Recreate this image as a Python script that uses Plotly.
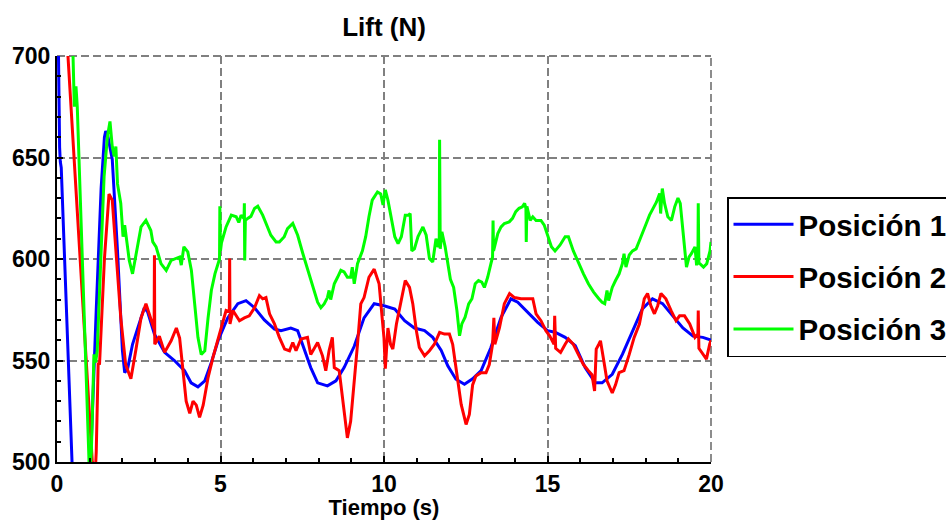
import plotly.graph_objects as go

# Time (s) and lift (N) samples for each position
t1 = [0, 0.04, 0.08, 0.1, 0.13, 0.46, 0.72, 0.9, 1.05, 1.2, 1.35, 1.45, 1.49, 1.55, 1.69, 1.85, 2.0, 2.07,
      2.16, 2.31, 2.46, 2.67, 2.77, 2.98, 3.29, 3.59, 3.9, 4.1, 4.31, 4.52, 4.72, 4.93, 5.22, 5.53, 5.78,
      6.04, 6.34, 6.65, 6.85, 7.15, 7.36, 7.56, 7.76, 7.97, 8.27, 8.53, 8.78, 9.09, 9.39, 9.7, 10.0,
      10.33, 10.63, 10.93, 11.24, 11.49, 11.75, 11.95, 12.2, 12.46, 12.71, 12.97, 13.27, 13.58, 13.88,
      14.09, 14.39, 14.7, 15.0, 15.23, 15.54, 15.85, 16.15, 16.46, 16.67, 16.98, 17.29, 17.6, 17.9,
      18.21, 18.52, 18.83, 19.14, 19.45, 19.75, 20.0]
p1 = [760, 700, 655, 648, 645, 500, 430, 460, 510, 575, 635, 660, 663, 661, 649, 604, 555, 544,
      546, 558, 566, 576, 574, 563, 554, 550, 545, 539, 537, 540, 549, 560, 571, 578, 579.5,
      576, 570, 565.5, 564.7, 566, 564.7, 556, 546.5, 539, 537.5, 540, 546.5, 557, 571, 578, 577,
      575.4, 569.6, 566, 564.7, 561.4, 555, 547.4, 540.8, 538.3, 541, 545, 556.4, 571.3, 580.4,
      578.7, 573.8, 568.8, 564.7, 563.9, 561.4, 557.3, 546.5, 539, 539, 543.2, 553, 564.7, 575.4,
      580.4, 578, 572, 566, 562, 561.4, 560]

t2 = [0, 1.08, 1.15, 1.2, 1.26, 1.3, 1.45, 1.59, 1.69, 1.8, 1.95, 2.1, 2.26, 2.41, 2.57, 2.72, 2.87,
      2.97, 2.98, 2.99, 3.13, 3.29, 3.49, 3.65, 3.75, 3.85, 3.95, 4.06, 4.16, 4.26, 4.36, 4.47, 4.62,
      4.77, 4.93, 5.07, 5.17, 5.27, 5.28, 5.29, 5.38, 5.58, 5.73, 5.88, 6.04, 6.19, 6.29, 6.39, 6.5,
      6.65, 6.8, 6.96, 7.11, 7.21, 7.31, 7.46, 7.66, 7.76, 7.97, 8.12, 8.22, 8.32, 8.42, 8.48, 8.63,
      8.78, 8.88, 8.98, 9.09, 9.19, 9.29, 9.39, 9.54, 9.7, 9.85, 9.95, 10.0, 10.04, 10.12, 10.2,
      10.27, 10.38, 10.53, 10.65, 10.78, 10.88, 10.99, 11.08, 11.24, 11.39, 11.54, 11.7, 11.85,
      12.0, 12.1, 12.2, 12.36, 12.51, 12.61, 12.71, 12.81, 12.97, 13.12, 13.22, 13.32, 13.36,
      13.39, 13.53, 13.68, 13.84, 13.99, 14.19, 14.39, 14.55, 14.65, 14.8, 14.95, 15.07, 15.2,
      15.22, 15.25, 15.4, 15.54, 15.64, 15.79, 15.95, 16.1, 16.25, 16.36, 16.44, 16.49, 16.57,
      16.62, 16.72, 16.82, 16.98, 17.08, 17.19, 17.34, 17.5, 17.65, 17.81, 17.96, 18.06, 18.16,
      18.27, 18.37, 18.47, 18.62, 18.78, 18.93, 19.04, 19.19, 19.35, 19.51, 19.6, 19.61, 19.63,
      19.76, 19.86, 19.96, 20.0]
p2 = [790, 500, 488, 505, 549, 548, 600, 632, 629, 604, 571, 548, 541, 555, 571, 578, 571,
      565.5, 601.8, 558, 562, 554, 559.7, 566, 561, 545, 530, 524, 530, 528, 522, 528, 541.6,
      551.5, 561, 568, 574.6, 574, 600.2, 568, 574.6, 569.6, 571, 572, 576, 582, 580.4, 581, 573,
      568, 561.4, 555.6, 554.8, 558.9, 554.8, 560.6, 561.4, 553, 558.9, 552.3, 545, 554.8, 561.4, 546.5, 545,
      523.4, 511.9, 520, 538, 558, 577.9, 581, 591, 595, 587.8, 571, 561, 546, 566, 558,
      555.6, 568, 579.5, 589.4, 586, 578, 564.7, 556.4, 552.3, 554.8, 558, 563.9, 563,
      563, 558, 546.5, 528.4, 518.5, 523.4, 538, 542.4, 544, 544, 548, 558, 571,
      558, 566, 578, 583, 581, 580.4, 580.4, 580.4, 573, 569.6, 564.7, 562, 558,
      572, 556, 554, 558, 560.6, 558, 553, 548, 545, 543, 535, 555.6, 558,
      559.7, 550, 540, 534, 538, 544, 545, 553, 561.4, 568, 580.4, 583, 577,
      573, 577, 583, 580.4, 574.6, 569.6, 572, 572, 568, 561.4, 563, 574.6, 556,
      553, 550.7, 558, 560]

t3 = [0, 0.3, 0.49, 0.53, 0.58, 0.62, 0.98, 1.0, 1.05, 1.08, 1.13, 1.18, 1.23, 1.33, 1.44, 1.54, 1.62,
      1.69, 1.75, 1.8, 1.85, 1.95, 2.02, 2.07, 2.12, 2.21, 2.31, 2.41, 2.57, 2.72, 2.87, 2.93, 3.03,
      3.18, 3.34, 3.49, 3.65, 3.75, 3.8, 3.88, 4.0, 4.11, 4.21, 4.31, 4.41, 4.52, 4.62, 4.72, 4.83,
      4.93, 4.97, 4.98, 5.0, 5.03, 5.17, 5.33, 5.48, 5.56, 5.63, 5.72, 5.73, 5.74, 5.76, 5.83, 5.93,
      6.04, 6.14, 6.29, 6.44, 6.54, 6.7, 6.8, 6.95, 7.05, 7.21, 7.36, 7.52, 7.68, 7.83, 7.97, 8.07,
      8.17, 8.27, 8.32, 8.37, 8.48, 8.58, 8.68, 8.78, 8.88, 8.98, 9.03, 9.09, 9.19, 9.34, 9.44, 9.54,
      9.64, 9.8, 9.9, 9.97, 10.04, 10.12, 10.22, 10.33, 10.43, 10.53, 10.65, 10.75, 10.8, 10.85,
      10.93, 11.04, 11.19, 11.29, 11.39, 11.49, 11.59, 11.65, 11.69, 11.7, 11.72, 11.77, 11.87,
      11.98, 12.03, 12.13, 12.23, 12.31, 12.38, 12.48, 12.59, 12.69, 12.79, 12.89, 12.99, 13.07,
      13.17, 13.27, 13.32, 13.335, 13.35, 13.48, 13.58, 13.68, 13.83, 13.93, 14.03, 14.13, 14.23,
      14.3, 14.34, 14.35, 14.37, 14.47, 14.55, 14.65, 14.8, 14.9, 15.02, 15.12, 15.23, 15.38,
      15.54, 15.64, 15.79, 15.95, 16.1, 16.25, 16.41, 16.57, 16.67, 16.75, 16.82, 16.87, 16.98,
      17.08, 17.19, 17.29, 17.34, 17.4, 17.5, 17.6, 17.71, 17.81, 17.92, 18.02, 18.12, 18.23,
      18.33, 18.43, 18.46, 18.51, 18.58, 18.68, 18.79, 18.89, 18.99, 19.06, 19.12, 19.2, 19.25,
      19.33, 19.4, 19.51, 19.56, 19.6, 19.61, 19.63, 19.66, 19.77, 19.87, 19.97, 20.0]
p3 = [780, 735, 700, 675, 685, 675, 500, 493, 505, 522, 553, 549, 554.8, 596, 640.6, 660, 667.8,
      655.4, 650.5, 655.4, 637, 627.4, 611, 616.7, 610, 599.3, 592.7, 601, 615.8, 619, 614, 608.4, 606,
      597.7, 594.4, 599.3, 600.2, 601, 597, 606, 603.5, 594.4, 577.9, 561.4, 553, 554.8, 571, 584.5, 592.7,
      597.7, 600, 626, 604, 608, 615.8, 621.6, 620.8, 618, 621.6, 620, 627.4, 599.3, 619, 620, 621,
      624.9, 626, 621.6, 615.8, 611.7, 608.4, 608.4, 611, 615, 617.5, 611.7, 602.6, 594.4, 586, 578.7, 576,
      577.9, 581, 584.5, 580, 587.8, 591, 594.4, 593.6, 591, 591, 596, 587.8, 597.7, 604, 611, 620.8,
      629, 633, 632, 626.6, 634, 629, 620.8, 611, 607.6, 611, 621.6, 621.6, 622.4, 604,
      605, 611, 615.8, 611.7, 600.2, 598.5, 610, 606, 607, 658.7, 605, 613.4, 606,
      594.4, 590, 586, 574.6, 562.2, 568, 571.3, 577.9, 580.4, 587.8, 589.4, 588.6, 586,
      591, 597.7, 601, 619, 604, 612.5, 615.8, 617.5, 618.3, 620, 623.3, 625, 625.7,
      627.4, 625, 608.4, 626, 619, 620.8, 619, 619, 616.7, 611, 606, 604, 606.8,
      611, 611, 604, 597.7, 592.7, 587.8, 583.7, 580.4, 578.7, 578, 584.5, 579.5, 586,
      589.4, 592.7, 597.7, 602.6, 596, 602, 604, 605, 609, 614, 617.5, 621.6, 625,
      628, 632.3, 622.4, 634.7, 627.4, 620.8, 619, 625.7, 630, 627.4, 617.5, 606, 596,
      601, 602.6, 606, 596.9, 600, 627.4, 598, 597.7, 596, 597.7, 604, 608.4]

series = [
    ("Posición 1", t1, p1, "#0000ff"),
    ("Posición 2", t2, p2, "#ff0000"),
    ("Posición 3", t3, p3, "#00ff00"),
]

x_ticks = [0, 5, 10, 15, 20]
y_ticks = [500, 550, 600, 650, 700]

FONT = "Liberation Sans, Arial, Helvetica, sans-serif"
GRID_COLOR = "#808080"
GRID_DASH = "8px,4px"

fig = go.Figure()
for i, (name, t, p, color) in enumerate(series):
    fig.add_trace(go.Scatter(
        x=t, y=p, mode="lines", name=name, legendgroup=f"g{i}",
        line=dict(color=color, width=3),
    ))

axis_common = dict(
    showgrid=True, gridcolor=GRID_COLOR, gridwidth=1.8, griddash=GRID_DASH,
    showline=True, linecolor="black", linewidth=2,
    ticks="inside", ticklen=6, tickwidth=1.5, tickcolor="black",
    zeroline=False, automargin=False,
    tickfont=dict(family=FONT, size=23, color="black", weight="bold"),
)

fig.update_xaxes(
    range=[0, 20], tickvals=x_ticks,
    minor=dict(dtick=1, ticks="inside", ticklen=4, tickcolor="black", showgrid=False),
    title=dict(text="Tiempo (s)", font=dict(family=FONT, size=22, color="black", weight="bold"), standoff=4),
    **axis_common,
)
fig.update_yaxes(
    range=[500, 700], tickvals=y_ticks,
    minor=dict(dtick=10, ticks="inside", ticklen=4, tickcolor="black", showgrid=False),
    **axis_common,
)

# dashed frame on the top and right edges of the axes box
for x0, y0, x1, y1 in [(0, 1, 1, 1), (1, 0, 1, 1)]:
    fig.add_shape(type="line", xref="paper", yref="paper", x0=x0, y0=y0, x1=x1, y1=y1,
                  line=dict(color=GRID_COLOR, width=1.8, dash=GRID_DASH), layer="below")

fig.update_layout(
    width=946, height=520,
    margin=dict(l=57, r=235, t=56, b=58, autoexpand=False),
    paper_bgcolor="white", plot_bgcolor="white",
    title=dict(text="Lift (N)", x=384 / 946, xanchor="center", y=1 - 27 / 520, yanchor="middle",
               font=dict(family=FONT, size=26, color="black", weight="bold")),
    legend=dict(
        x=(727 - 57) / 654, y=(462 - 197) / 406, xanchor="left", yanchor="top",
        bordercolor="black", borderwidth=1.5, bgcolor="white",
        font=dict(family=FONT, size=29.5, color="black", weight="bold"),
        tracegroupgap=11, itemwidth=60,
    ),
    showlegend=True,
)

fig.write_html("out.html")
